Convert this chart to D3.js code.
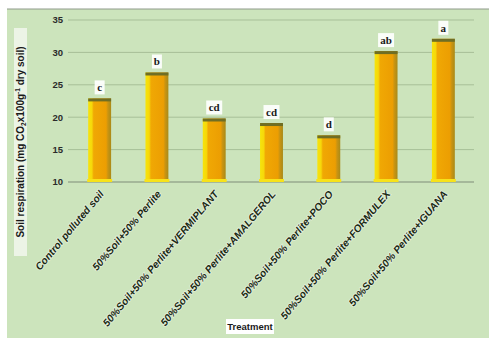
<!DOCTYPE html>
<html>
<head>
<meta charset="utf-8">
<script src="https://cdn.jsdelivr.net/npm/d3@7"></script>
<style>
  body { margin: 0; background: #fff; }
  text { font-family: "Liberation Sans", Arial, sans-serif; }
</style>
</head>
<body>
<div id="chart"></div>
<script>
// Chart data
var treatments = [
  "Control polluted soil",
  "50%Soil+50% Perlite",
  "50%Soil+50% Perlite+VERMIPLANT",
  "50%Soil+50% Perlite+AMALGEROL",
  "50%Soil+50% Perlite+POCO",
  "50%Soil+50% Perlite+FORMULEX",
  "50%Soil+50% Perlite+IGUANA"
];
var respiration = [22.9, 26.9, 19.8, 19.1, 17.2, 30.2, 32.1];
var letters = ["c", "b", "cd", "cd", "d", "ab", "a"];
var yTicks = [10, 15, 20, 25, 30, 35];

var width = 489, height = 340;

var svg = d3.select("#chart")
  .append("svg")
  .attr("width", width)
  .attr("height", height);

// Green panel
svg.append("rect")
  .attr("x", 7).attr("y", 9)
  .attr("width", 482).attr("height", 329)
  .attr("fill", "#cce4bc");
svg.append("line")
  .attr("x1", 7).attr("x2", 489).attr("y1", 9).attr("y2", 9)
  .attr("stroke", "#8f9a8a").attr("stroke-width", 1);

// Scales
var x = d3.scaleBand()
  .domain(treatments)
  .range([71, 472])
  .paddingInner(0.6)
  .paddingOuter(0.3);

var y = d3.scaleLinear()
  .domain([10, 35])
  .range([182, 20]);

// Gridlines
svg.append("g")
  .selectAll("line")
  .data(yTicks)
  .enter()
  .append("line")
  .attr("x1", 68).attr("x2", 474)
  .attr("y1", function(d) { return y(d); })
  .attr("y2", function(d) { return y(d); })
  .attr("stroke", function(d) { return d === 10 ? "#7f8c78" : "#a7bf98"; })
  .attr("stroke-width", 1);

// Y axis labels
svg.append("g")
  .selectAll("text")
  .data(yTicks)
  .enter()
  .append("text")
  .attr("x", 63)
  .attr("y", function(d) { return y(d); })
  .attr("dy", "0.35em")
  .attr("text-anchor", "end")
  .attr("font-size", 9.5)
  .attr("font-weight", "bold")
  .attr("fill", "#2a2a2a")
  .text(function(d) { return d; });

// Bar gradient (3D look)
var defs = svg.append("defs");
var grad = defs.append("linearGradient")
  .attr("id", "barGrad")
  .attr("x1", "0%").attr("x2", "100%");
grad.append("stop").attr("offset", "0%").attr("stop-color", "#f6e40c");
grad.append("stop").attr("offset", "16%").attr("stop-color", "#f6d80a");
grad.append("stop").attr("offset", "24%").attr("stop-color", "#f0a804");
grad.append("stop").attr("offset", "78%").attr("stop-color", "#ec9e02");
grad.append("stop").attr("offset", "86%").attr("stop-color", "#c99412");
grad.append("stop").attr("offset", "100%").attr("stop-color", "#a98a18");

var bars = svg.append("g")
  .selectAll("g")
  .data(treatments)
  .enter()
  .append("g");

bars.append("rect")
  .attr("x", function(d) { return x(d); })
  .attr("y", function(d, i) { return y(respiration[i]); })
  .attr("width", x.bandwidth())
  .attr("height", function(d, i) { return y(10) - y(respiration[i]); })
  .attr("fill", "url(#barGrad)");

// dark top cap
bars.append("rect")
  .attr("x", function(d) { return x(d); })
  .attr("y", function(d, i) { return y(respiration[i]); })
  .attr("width", x.bandwidth())
  .attr("height", 3)
  .attr("fill", "#6f6e24");

// yellow floor strip
bars.append("rect")
  .attr("x", function(d) { return x(d) - 1; })
  .attr("y", y(10) - 3)
  .attr("width", x.bandwidth() + 2)
  .attr("height", 3)
  .attr("fill", "#f7e21a");

// Significance letters in white boxes
var lab = svg.append("g")
  .selectAll("g")
  .data(treatments)
  .enter()
  .append("g")
  .attr("transform", function(d, i) {
    return "translate(" + (x(d) + x.bandwidth() / 2) + "," + (y(respiration[i]) - 10) + ")";
  });

lab.append("rect")
  .attr("x", function(d, i) { return letters[i].length > 1 ? -8 : -5; })
  .attr("y", -8)
  .attr("width", function(d, i) { return letters[i].length > 1 ? 16 : 10; })
  .attr("height", 14)
  .attr("fill", "#ffffff")
  .attr("opacity", 0.9);

lab.append("text")
  .attr("text-anchor", "middle")
  .attr("y", 3)
  .style("font-family", "'Liberation Serif', 'DejaVu Serif', serif")
  .attr("font-weight", "bold")
  .attr("font-size", 11)
  .attr("fill", "#1a1a1a")
  .text(function(d, i) { return letters[i]; });

// Category labels, rotated
svg.append("g")
  .selectAll("text")
  .data(treatments)
  .enter()
  .append("text")
  .attr("transform", function(d) {
    return "translate(" + (x(d) + x.bandwidth() / 2 + 2) + ",192) rotate(-50)";
  })
  .attr("text-anchor", "end")
  .attr("dy", "0.35em")
  .attr("font-size", 10.3)
  .attr("font-weight", "bold")
  .attr("font-style", "italic")
  .attr("fill", "#1b2a14")
  .attr("stroke", "#e4f0dc")
  .attr("stroke-width", 1.5)
  .attr("paint-order", "stroke")
  .text(function(d) { return d; });

// X axis title
svg.append("rect")
  .attr("x", 226).attr("y", 319)
  .attr("width", 48).attr("height", 15)
  .attr("fill", "#ffffff");
svg.append("text")
  .attr("x", 250).attr("y", 330)
  .attr("text-anchor", "middle")
  .attr("font-size", 9.5)
  .attr("font-weight", "bold")
  .attr("fill", "#1a1a1a")
  .text("Treatment");

// Y axis title
svg.append("rect")
  .attr("x", 14).attr("y", 28)
  .attr("width", 13).attr("height", 228)
  .attr("fill", "#f4f8f0")
  .attr("opacity", 0.8);
var yt = svg.append("text")
  .attr("transform", "translate(24,142) rotate(-90)")
  .attr("text-anchor", "middle")
  .attr("font-size", 10)
  .attr("font-weight", "bold")
  .attr("fill", "#1a1a1a");
yt.append("tspan").text("Soil respiration (mg CO");
yt.append("tspan").attr("font-size", 6.5).attr("dy", 2).text("2");
yt.append("tspan").attr("dy", -2).text("x100g");
yt.append("tspan").attr("font-size", 6.5).attr("dy", -4).text("-1");
yt.append("tspan").attr("dy", 4).text(" dry soil)");
</script>
</body>
</html>
